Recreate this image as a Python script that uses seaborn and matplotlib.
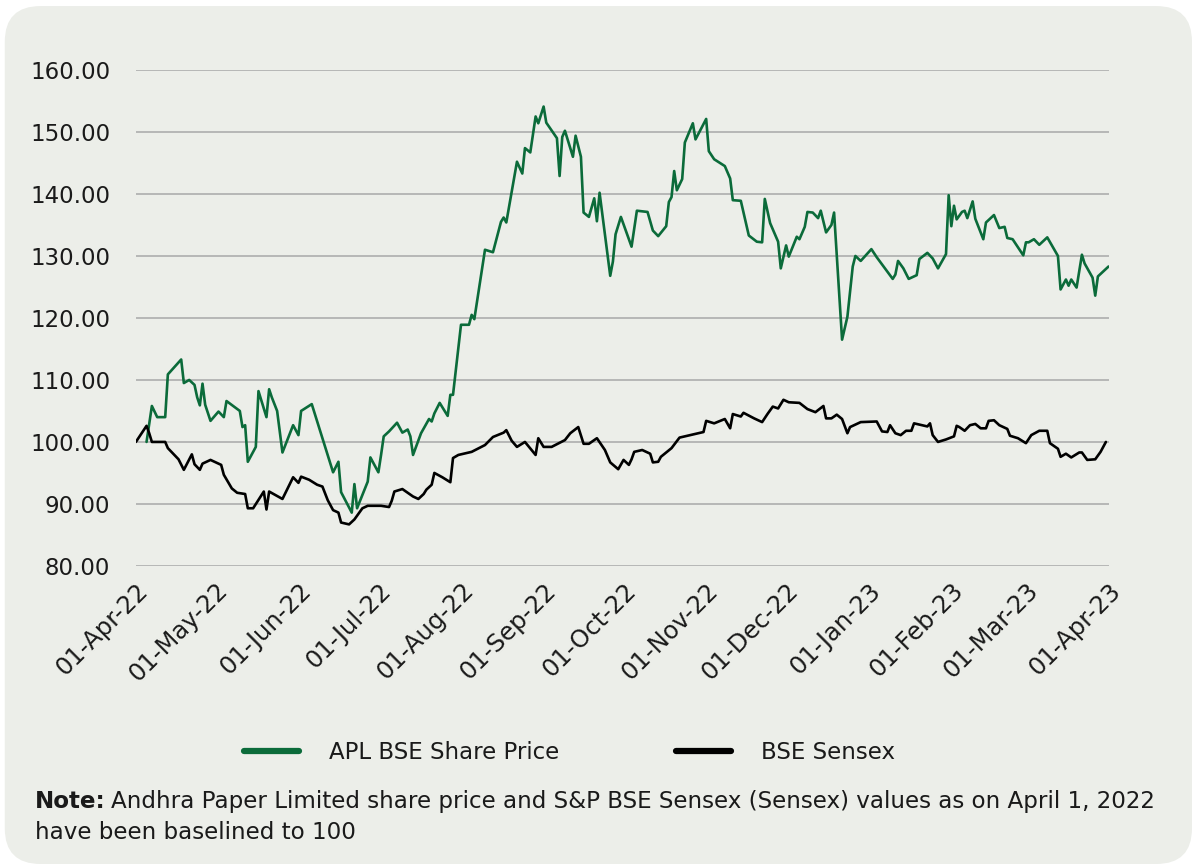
"""Andhra Paper share price vs BSE Sensex, both rebased to 100."""

import matplotlib
matplotlib.use("Agg")
import matplotlib.pyplot as plt
from matplotlib.patches import FancyBboxPatch
from matplotlib.lines import Line2D
import matplotlib.dates as mdates
import numpy as np
import pandas as pd
import seaborn as sns

# Days since 01-Apr-22 and rebased value
apl_days = [4, 6, 8, 11, 12, 17, 18, 20, 22, 23, 24, 25, 26, 28, 31, 33, 34, 39, 40, 41,
            42, 45, 46, 49, 50, 51, 53, 55, 59, 61, 62, 66, 74, 76, 77, 81, 82, 83, 87, 88,
            91, 92, 93, 95, 98, 100, 102, 103, 104, 107, 110, 111, 112, 114, 117, 118, 119, 122, 125, 126,
            127, 131, 134, 137, 138, 139, 143, 145, 146, 148, 150, 151, 153, 154, 158, 159, 160, 161, 164, 165,
            167, 168, 170, 172, 173, 174, 178, 179, 180, 182, 186, 188, 192, 194, 196, 199, 200, 201, 202, 203,
            205, 206, 209, 210, 214, 215, 217, 221, 223, 224, 227, 230, 233, 235, 236, 238, 241, 242, 244, 245,
            248, 249, 251, 252, 254, 256, 257, 259, 261, 262, 265, 267, 269, 270, 272, 276, 278, 284, 285, 286,
            288, 290, 293, 294, 297, 299, 301, 304, 305, 306, 307, 308, 310, 311, 312, 314, 315, 318, 319, 322,
            324, 326, 327, 329, 333, 334, 335, 337, 339, 342, 346, 347, 348, 349, 350, 351, 353, 355, 356, 359,
            360, 361, 365]
apl_value = [100.0, 105.8, 104.0, 104.0, 110.9, 113.3, 109.5, 110.0, 109.2, 107.2, 105.9, 109.4, 106.0, 103.4, 104.9, 104.0, 106.6, 105.0, 102.4, 102.7,
             96.8, 99.2, 108.2, 104.0, 108.5, 107.2, 105.0, 98.3, 102.7, 101.1, 105.0, 106.1, 95.1, 96.8, 91.9, 88.6, 93.2, 89.3, 93.6, 97.5,
             95.1, 97.9, 100.9, 101.7, 103.1, 101.5, 102.0, 100.9, 97.9, 101.4, 103.7, 103.3, 104.6, 106.3, 104.2, 107.6, 107.6, 118.9, 118.9, 120.5,
             119.8, 131.0, 130.6, 135.5, 136.2, 135.4, 145.2, 143.3, 147.4, 146.7, 152.5, 151.4, 154.1, 151.5, 149.0, 142.9, 149.2, 150.2, 146.0, 149.4,
             146.0, 137.0, 136.3, 139.3, 135.6, 140.2, 126.8, 129.1, 133.5, 136.3, 131.5, 137.3, 137.1, 134.1, 133.2, 134.8, 138.7, 139.5, 143.7, 140.6,
             142.4, 148.3, 151.4, 148.8, 152.1, 146.9, 145.6, 144.5, 142.5, 139.0, 138.9, 133.3, 132.3, 132.2, 139.2, 135.3, 132.3, 128.0, 131.7, 129.9,
             133.1, 132.7, 134.7, 137.1, 137.0, 136.1, 137.3, 133.8, 135.0, 137.0, 116.5, 120.2, 128.3, 130.0, 129.2, 131.1, 129.8, 126.3, 127.0, 129.2,
             128.0, 126.3, 126.9, 129.5, 130.5, 129.6, 128.0, 130.3, 139.8, 134.8, 138.1, 135.9, 137.1, 137.3, 136.1, 138.8, 136.0, 132.7, 135.4, 136.6,
             134.5, 134.7, 132.9, 132.7, 130.1, 132.2, 132.2, 132.7, 131.8, 133.0, 130.0, 124.6, 125.4, 126.2, 125.2, 126.2, 124.9, 130.2, 128.8, 126.5,
             123.6, 126.7, 128.3]

sensex_days = [0, 4, 5, 6, 11, 12, 14, 16, 18, 21, 22, 24, 25, 28, 32, 33, 36, 38, 41, 42,
               44, 48, 49, 50, 55, 59, 61, 62, 65, 68, 70, 72, 74, 76, 77, 80, 82, 85, 87, 92,
               95, 96, 97, 100, 102, 104, 106, 108, 109, 111, 112, 115, 118, 119, 121, 124, 126, 131, 134, 138,
               139, 141, 143, 146, 150, 151, 153, 156, 161, 163, 166, 168, 170, 173, 176, 178, 181, 183, 185, 186,
               187, 190, 193, 194, 196, 197, 201, 204, 208, 213, 214, 217, 221, 223, 224, 227, 228, 232, 235, 237,
               239, 241, 243, 245, 249, 252, 255, 258, 259, 261, 263, 265, 267, 268, 272, 278, 280, 282, 283, 285,
               287, 289, 291, 292, 294, 297, 298, 299, 301, 304, 307, 308, 309, 311, 313, 315, 317, 319, 320, 322,
               324, 327, 328, 331, 334, 336, 339, 342, 343, 346, 347, 349, 351, 354, 355, 357, 360, 362, 364]
sensex_value = [100.0, 102.6, 101.4, 100.0, 100.0, 99.0, 98.1, 97.2, 95.5, 98.0, 96.4, 95.5, 96.5, 97.1, 96.3, 94.7, 92.5, 91.8, 91.6, 89.3,
                89.3, 92.0, 89.1, 92.0, 90.8, 94.3, 93.4, 94.4, 93.9, 93.1, 92.8, 90.6, 89.0, 88.6, 87.0, 86.7, 87.5, 89.3, 89.7, 89.7,
                89.5, 90.5, 92.0, 92.4, 91.8, 91.2, 90.8, 91.6, 92.3, 93.1, 95.0, 94.3, 93.5, 97.4, 97.9, 98.2, 98.4, 99.5, 100.8, 101.5,
                101.9, 100.2, 99.2, 100.0, 97.9, 100.6, 99.2, 99.2, 100.3, 101.4, 102.4, 99.7, 99.7, 100.6, 98.7, 96.7, 95.6, 97.1, 96.3, 97.2,
                98.4, 98.7, 98.1, 96.7, 96.8, 97.6, 99.0, 100.7, 101.1, 101.6, 103.4, 103.0, 103.7, 102.2, 104.5, 104.1, 104.7, 103.8, 103.2, 104.5,
                105.7, 105.4, 106.8, 106.4, 106.3, 105.3, 104.8, 105.8, 103.8, 103.8, 104.4, 103.7, 101.4, 102.4, 103.2, 103.3, 101.7, 101.6, 102.7, 101.4,
                101.1, 101.8, 101.8, 103.0, 102.8, 102.5, 103.0, 101.1, 100.0, 100.4, 100.9, 102.6, 102.4, 101.8, 102.7, 102.9, 102.2, 102.2, 103.4, 103.5,
                102.7, 102.1, 101.0, 100.6, 99.8, 101.1, 101.8, 101.8, 99.8, 98.9, 97.6, 98.1, 97.5, 98.3, 98.3, 97.1, 97.2, 98.4, 100.0]

series_names = ["APL BSE Share Price", "BSE Sensex"]
series_colors = ["#0b6b3a", "#000000"]
month_ticks = pd.date_range("2022-04-01", "2023-04-01", freq="MS")

NOTE_LINE1 = ("Andhra Paper Limited share price and S&P BSE Sensex (Sensex) "
              "values as on April 1, 2022")
NOTE_LINE2 = "have been baselined to 100"

base = pd.Timestamp("2022-04-01")
df = pd.concat([
    pd.DataFrame({"date": base + pd.to_timedelta(apl_days, unit="D"),
                  "value": apl_value, "series": series_names[0]}),
    pd.DataFrame({"date": base + pd.to_timedelta(sensex_days, unit="D"),
                  "value": sensex_value, "series": series_names[1]}),
])

sns.set_theme(style="white")
plt.rcParams["font.family"] = ["DejaVu Sans"]

BG = "#eceee9"
TXT = "#1a1a1a"
fig = plt.figure(figsize=(11.92, 8.64), dpi=100, facecolor="white")
card = FancyBboxPatch((0.004, 0.0), 0.996, 0.993, boxstyle="round,pad=0,rounding_size=0.03",
                      transform=fig.transFigure, facecolor=BG, edgecolor="none",
                      mutation_aspect=1192 / 864, zorder=-5)
fig.patches.append(card)

ax = fig.add_axes([0.114, 0.345, 0.816, 0.574])
ax.set_facecolor("none")
ax.set_zorder(2)

sns.lineplot(data=df, x="date", y="value", hue="series", palette=series_colors,
             hue_order=series_names, linewidth=1.9, ax=ax, legend=False, zorder=3)

ax.set_ylim(80, 160)
ax.set_yticks(np.arange(80, 161, 10))
ax.yaxis.set_major_formatter(matplotlib.ticker.FormatStrFormatter("%.2f"))
ax.set_xlim(month_ticks[0], month_ticks[-1])
ax.set_xticks(month_ticks)
ax.xaxis.set_major_formatter(mdates.DateFormatter("%d-%b-%y"))
for lbl in ax.get_xticklabels():
    lbl.set_rotation(45)
    lbl.set_ha("right")
    lbl.set_va("top")
    lbl.set_rotation_mode("anchor")
ax.tick_params(axis="both", length=0, colors=TXT)
ax.tick_params(axis="y", pad=18.5, labelsize=16.5)
ax.tick_params(axis="x", pad=9, labelsize=17.5)
ax.grid(axis="y", color="#a8a8a8", linewidth=1.1)
ax.grid(axis="x", visible=False)
ax.set_xlabel("")
ax.set_ylabel("")
for s in ax.spines.values():
    s.set_visible(False)

handles = [Line2D([], [], color=c, linewidth=4.5, solid_capstyle="round") for c in series_colors]
fig.legend(handles, series_names, loc="center", bbox_to_anchor=(0.478, 0.129), ncol=2,
           frameon=False, fontsize=16.5, handlelength=2.4, handletextpad=1.3,
           columnspacing=5.1, labelcolor=TXT)

# Note: bold prefix then regular text on the same line
note_x, note_y1, note_y2 = 0.029, 0.065, 0.029
t_bold = fig.text(note_x, note_y1, "Note:", fontsize=16.6, fontweight="bold",
                  color=TXT, va="baseline")
renderer = fig.canvas.get_renderer()
bb = t_bold.get_window_extent(renderer).transformed(fig.transFigure.inverted())
fig.text(bb.x1 + 0.005, note_y1, NOTE_LINE1, fontsize=16.6, color=TXT, va="baseline")
fig.text(note_x, note_y2, NOTE_LINE2, fontsize=16.6, color=TXT, va="baseline")

fig.savefig("out.png", dpi=100, facecolor="white")
plt.close(fig)
